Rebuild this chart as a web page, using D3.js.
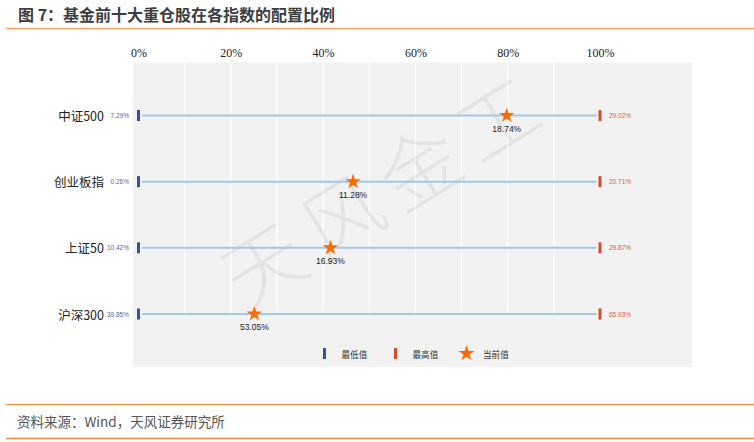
<!DOCTYPE html>
<html>
<head>
<meta charset="utf-8">
<script src="https://d3js.org/d3.v7.min.js"></script>
<style>
    body { margin: 0; background: #fff; }
    svg { display: block; }
    .cjk { font-family: "Noto Sans CJK SC", "Noto Sans", sans-serif; }
</style>
</head>
<body>
<svg width="754" height="442"></svg>
<script>
// data
var categories = ["中证500", "创业板指", "上证50", "沪深300"];
var minVals = [7.29, 0.26, 10.42, 39.85];
var maxVals = [29.02, 20.71, 29.87, 65.93];
var curVals = [18.74, 11.28, 16.93, 53.05];
// where the star sits between min (0%) and max (100%)
var curPos = [0.798, 0.465, 0.416, 0.251];
var xTicks = [0, 0.2, 0.4, 0.6, 0.8, 1];
var gridTicks = [0.1, 0.2, 0.3, 0.4, 0.5, 0.6, 0.7, 0.8, 0.9];
var legendItems = ["最低值", "最高值", "当前值"];

var svg = d3.select("svg");

var x = d3.scaleLinear().domain([0, 1]).range([138.5, 600]);
var y = d3.scalePoint().domain(categories).range([115.5, 314]);

var fmt = function (v) { return d3.format(".2f")(v) + "%"; };

var colMin = "#2f5597", colMax = "#d54a2a", colLine = "#a4c6e8", colStar = "#ff6a00";

// title
svg.append("text")
    .attr("class", "cjk")
    .attr("x", 18).attr("y", 14)
    .attr("dominant-baseline", "central")
    .style("font-size", "16px").style("font-weight", "bold")
    .attr("fill", "#3d3d3d")
    .text("图 7：基金前十大重仓股在各指数的配置比例");

svg.append("line")
    .attr("x1", 6).attr("x2", 754).attr("y1", 28.5).attr("y2", 28.5)
    .attr("stroke", "#f4a460").attr("stroke-width", 1.5);

// plot background
var plotTop = 62.5, plotBottom = 367;
svg.append("rect")
    .attr("x", x(-0.012)).attr("y", plotTop)
    .attr("width", x(1.2) - x(-0.012)).attr("height", plotBottom - plotTop)
    .attr("fill", "#f2f2f2");

// grid
svg.append("g").selectAll("line")
    .data(gridTicks).enter().append("line")
    .attr("x1", function (d) { return x(d); })
    .attr("x2", function (d) { return x(d); })
    .attr("y1", plotTop).attr("y2", y(categories[categories.length - 1]))
    .attr("stroke", "#fff").attr("stroke-width", 1.3);

// watermark
var wm = svg.append("g")
    .attr("transform", "translate(378,188) rotate(-32)");
wm.selectAll("text")
    .data("天风金工".split("")).enter().append("text")
    .attr("class", "cjk")
    .attr("x", function (d, i) { return (i - 1.5) * 92; })
    .attr("y", 0)
    .attr("text-anchor", "middle")
    .attr("dominant-baseline", "central")
    .style("font-size", "80px").style("font-weight", 300)
    .attr("fill", "#000").attr("fill-opacity", 0.055)
    .text(function (d) { return d; });

// top axis
var xAxis = d3.axisTop(x).tickValues(xTicks).tickFormat(d3.format(".0%")).tickSize(0);
var ax = svg.append("g").attr("transform", "translate(0,53)").call(xAxis);
ax.select(".domain").remove();
ax.selectAll("text")
    .attr("dy", "0.35em").attr("y", 0)
    .style("font-family", "'Liberation Serif', serif")
    .style("font-size", "12px")
    .attr("fill", "#222");

// rows
var rows = svg.append("g").selectAll("g")
    .data(categories).enter().append("g")
    .attr("transform", function (d) { return "translate(0," + y(d) + ")"; });

rows.append("line")
    .attr("x1", x(0) + 3.5).attr("x2", x(1) - 3.5)
    .attr("stroke", colLine).attr("stroke-width", 2);

rows.append("rect")
    .attr("x", x(0) - 1.5).attr("y", -5.5).attr("width", 3).attr("height", 11)
    .attr("fill", colMin);

rows.append("rect")
    .attr("x", x(1) - 1.5).attr("y", -5.5).attr("width", 3).attr("height", 11)
    .attr("fill", colMax);

rows.append("text")
    .attr("class", "cjk")
    .attr("x", 104).attr("dominant-baseline", "central")
    .attr("text-anchor", "end")
    .style("font-size", "12.5px").attr("fill", "#222")
    .text(function (d) { return d; });

rows.append("text")
    .attr("x", 129).attr("dominant-baseline", "central")
    .attr("text-anchor", "end")
    .style("font-family", "'Liberation Sans', sans-serif")
    .style("font-size", "6.5px").attr("fill", "#4a6aa8")
    .text(function (d, i) { return fmt(minVals[i]); });

rows.append("text")
    .attr("x", 609).attr("dominant-baseline", "central")
    .style("font-family", "'Liberation Sans', sans-serif")
    .style("font-size", "6.5px").attr("fill", "#dc5a3c")
    .text(function (d, i) { return fmt(maxVals[i]); });

var star = d3.symbol().type(d3.symbolStar).size(74);

rows.append("path")
    .attr("d", star)
    .attr("transform", function (d, i) { return "translate(" + x(curPos[i]) + ",0)"; })
    .attr("fill", colStar);

rows.append("text")
    .attr("x", function (d, i) { return x(curPos[i]); })
    .attr("y", 13).attr("dominant-baseline", "central")
    .attr("text-anchor", "middle")
    .style("font-family", "'Liberation Sans', sans-serif")
    .style("font-size", "8.5px").attr("fill", "#222")
    .text(function (d, i) { return fmt(curVals[i]); });

// legend
var legX = [324.5, 395.5, 466.5];
var leg = svg.append("g").selectAll("g")
    .data(legendItems).enter().append("g")
    .attr("transform", function (d, i) { return "translate(" + legX[i] + ",353.5)"; });

leg.filter(function (d, i) { return i < 2; })
    .append("rect")
    .attr("x", -1.5).attr("y", -5.5).attr("width", 3).attr("height", 11)
    .attr("fill", function (d, i) { return i === 0 ? colMin : colMax; });

leg.filter(function (d, i) { return i === 2; })
    .append("path")
    .attr("d", d3.symbol().type(d3.symbolStar).size(80))
    .attr("fill", colStar);

leg.append("text")
    .attr("class", "cjk")
    .attr("x", function (d, i) { return i === 2 ? 16.5 : 17; })
    .attr("dominant-baseline", "central")
    .style("font-size", "8.6px").attr("fill", "#333")
    .text(function (d) { return d; });

// footer
svg.append("line")
    .attr("x1", 6).attr("x2", 754).attr("y1", 404.5).attr("y2", 404.5)
    .attr("stroke", "#ef8a3a").attr("stroke-width", 1.2);

svg.append("text")
    .attr("class", "cjk")
    .attr("x", 17).attr("y", 421)
    .attr("dominant-baseline", "central")
    .style("font-size", "13.5px").attr("fill", "#555")
    .text("资料来源：Wind，天风证券研究所");

svg.append("line")
    .attr("x1", 6).attr("x2", 754).attr("y1", 438.5).attr("y2", 438.5)
    .attr("stroke", "#ef8a3a").attr("stroke-width", 1.5);
</script>
</body>
</html>
